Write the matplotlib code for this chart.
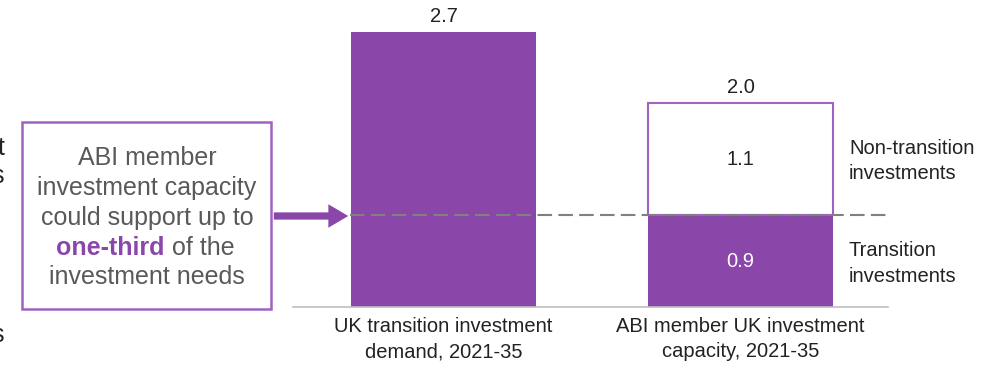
import matplotlib.pyplot as plt
from matplotlib.patches import Rectangle, FancyArrowPatch

plt.rcParams['font.family'] = ['Liberation Sans', 'DejaVu Sans']

# data
categories = ["UK transition investment\ndemand, 2021-35",
              "ABI member UK investment\ncapacity, 2021-35"]
demand = 2.7
transition = 0.9
non_transition = 1.1
capacity_total = 2.0

purple = "#8A46A8"
edge_purple = "#9E62C2"
grey_text = "#595959"

W, H = 995, 368
fig = plt.figure(figsize=(W / 100, H / 100), dpi=100)
ax = fig.add_axes([0, 0, 1, 1])

# scale: bar centres at 443.5 / 740.5 px, baseline at 307 px from top
unit_x = 297.0
unit_y = 101.9
x0 = [0, 1]
ax.set_xlim(-443.5 / unit_x, 1 + (W - 740.5) / unit_x)
ax.set_ylim(-(H - 307) / unit_y, 307 / unit_y)
ax.axis("off")

bw = 185 / unit_x
ax.bar(x0[0], demand, width=bw, color=purple, zorder=2)
ax.bar(x0[1], transition, width=bw, color=purple, zorder=2)
ax.bar(x0[1], non_transition, bottom=transition, width=bw, color="white",
       edgecolor=edge_purple, linewidth=1.5, zorder=2)


def px(x, y):
    # pixel (from top-left) -> figure fraction
    return x / W, 1 - y / H


# baseline
xa, _ = px(293, 0)
xb, _ = px(888, 0)
ax.plot([xa, xb], [0, 0], transform=ax.get_yaxis_transform(), color="#BFBFBF", lw=1.2,
        zorder=3, clip_on=False)
ax.plot([px(350, 0)[0], xb], [transition, transition], transform=ax.get_yaxis_transform(),
        color="#808080", lw=1.5, ls=(0, (7, 3)), zorder=4)

# value labels
ax.text(x0[0], demand + 0.06, f"{demand:.1f}", ha="center", va="bottom", fontsize=14.5, color="#222222")
ax.text(x0[1], capacity_total + 0.06, f"{capacity_total:.1f}", ha="center", va="bottom",
        fontsize=14.5, color="#222222")
ax.text(x0[1], transition + non_transition / 2, f"{non_transition:.1f}", ha="center", va="center",
        fontsize=14.5, color="#222222")
ax.text(x0[1], transition / 2, f"{transition:.1f}", ha="center", va="center", fontsize=14.5,
        color="white")

# category labels
for x, lab in zip(x0, categories):
    ax.text(x, -0.1, lab, ha="center", va="top", fontsize=14.5, color="#222222", linespacing=1.4)

# side labels
fig.text(*px(849, 160.5), "Non-transition\ninvestments", ha="left", va="center", fontsize=14.5,
         color="#222222", linespacing=1.4)
fig.text(*px(849, 263.5), "Transition\ninvestments", ha="left", va="center", fontsize=14.5,
         color="#222222", linespacing=1.4)

# callout box
bx0, by0 = px(22, 309)
bx1, by1 = px(271, 122)
fig.add_artist(Rectangle((bx0, by0), bx1 - bx0, by1 - by0, transform=fig.transFigure,
                         facecolor="white", edgecolor=edge_purple, lw=1.8))
lines = ["ABI member", "investment capacity", "could support up to"]
for i, t in enumerate(lines):
    fig.text(*px(147, 158 + 30 * i), t, ha="center", va="center", fontsize=18, color=grey_text)
fig.text(*px(165, 248), "one-third", ha="right", va="center", fontsize=18, color=purple,
         fontweight="bold")
fig.text(*px(172, 248), "of the", ha="left", va="center", fontsize=18, color=grey_text)
fig.text(*px(147, 277), "investment needs", ha="center", va="center", fontsize=18, color=grey_text)

# arrow
fig.add_artist(FancyArrowPatch(px(271, 216), px(351, 216), transform=fig.transFigure,
                               arrowstyle="simple,head_length=1.1,head_width=1.3,tail_width=0.4",
                               mutation_scale=13, color=purple, lw=0, zorder=5))

# cut-off text on the left edge
fig.text(*px(5, 148), "t", ha="right", va="center", fontsize=18, color="#222222")
fig.text(*px(4, 176), "s", ha="right", va="center", fontsize=18, color="#222222")
fig.text(*px(4, 335), "s", ha="right", va="center", fontsize=18, color="#222222")

fig.savefig("out.png", dpi=100)
